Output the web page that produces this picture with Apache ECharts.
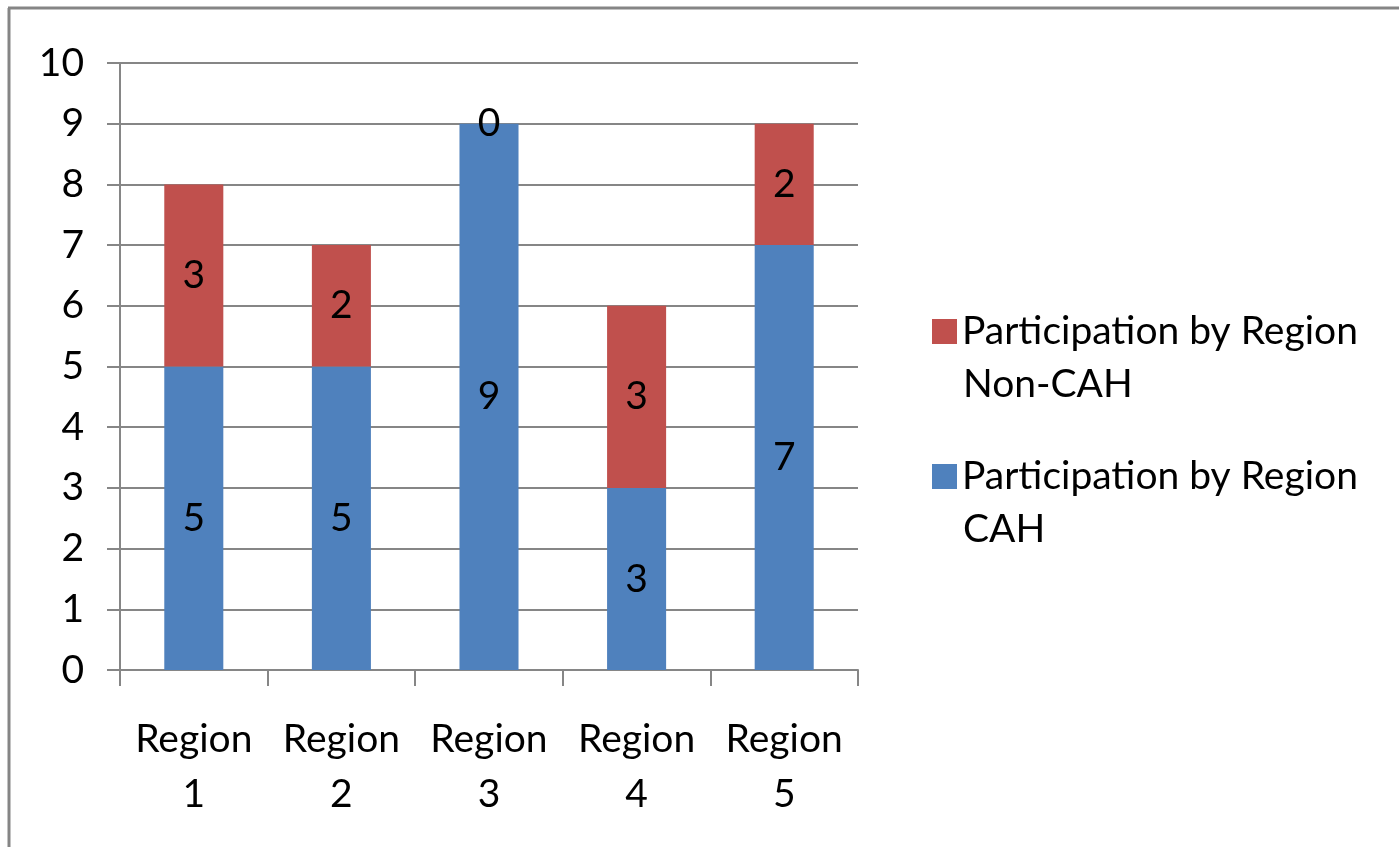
<!DOCTYPE html>
<html><head><meta charset="utf-8">
<script src="https://cdn.jsdelivr.net/npm/echarts@6/dist/echarts.min.js"></script>
<style>html,body{margin:0;padding:0;background:#fff;}#c{width:1399px;height:847px;}</style>
</head><body><div id="c"></div>
<script>
const categories = ['Region\n1','Region\n2','Region\n3','Region\n4','Region\n5'];
const cahValues = [5, 5, 9, 3, 7];
const nonCahValues = [3, 2, 0, 3, 2];
const yTicks = [0,1,2,3,4,5,6,7,8,9,10];
const seriesNames = ['Participation by Region CAH','Participation by Region Non-CAH'];
const legendFirstLine = 'Participation by Region';
const legendSecondLines = ['Non-CAH', 'CAH'];

const FONT = 'Lato, "Open Sans", sans-serif';
const FS = 39;
const chart = echarts.init(document.getElementById('c'));
const labelStyle = {show:true, position:'inside', color:'#000', fontSize:FS, fontFamily:FONT, formatter: p => String(p.value)};
chart.setOption({
  animation:false,
  graphic:[
    {type:'line', shape:{x1:8, y1:8, x2:1399, y2:8}, style:{stroke:'#858585', lineWidth:3}},
    {type:'line', shape:{x1:9, y1:8, x2:9, y2:847}, style:{stroke:'#858585', lineWidth:3}},
    {type:'text', left:963, top:385 - 28, style:{text:legendSecondLines[0], font:FS + 'px ' + FONT, fill:'#000', lineHeight:55, verticalAlign:'top'}},
    {type:'text', left:963, top:530 - 28, style:{text:legendSecondLines[1], font:FS + 'px ' + FONT, fill:'#000', lineHeight:55, verticalAlign:'top'}}
  ],
  grid:{left:120, right:541, top:63, bottom:177},
  legend:{
    orient:'vertical', left:927, top:299, itemWidth:25, itemHeight:25, itemGap:90,
    data:[seriesNames[1], seriesNames[0]],
    icon:'rect',
    formatter: () => legendFirstLine,
    textStyle:{fontSize:FS, fontFamily:FONT, color:'#000', lineHeight:55}
  },
  xAxis:{
    type:'category', data:categories,
    axisLine:{lineStyle:{color:'#868686', width:2}},
    axisTick:{show:true, length:16, alignWithLabel:false, lineStyle:{color:'#868686', width:2}},
    axisLabel:{fontSize:FS, fontFamily:FONT, color:'#000', lineHeight:55, margin:42, interval:0}
  },
  yAxis:{
    type:'value', min:yTicks[0], max:yTicks[yTicks.length-1], interval:1,
    axisLine:{show:true, lineStyle:{color:'#868686', width:2}},
    axisTick:{show:true, inside:false, length:13, lineStyle:{color:'#868686', width:2}},
    splitLine:{lineStyle:{color:'#868686', width:2}},
    axisLabel:{fontSize:FS, fontFamily:FONT, color:'#000', margin:36}
  },
  series:[
    {name:seriesNames[0], type:'bar', stack:'t', data:cahValues, barWidth:'40%', itemStyle:{color:'#4F81BD'}, label:labelStyle},
    {name:seriesNames[1], type:'bar', stack:'t', data:nonCahValues, barWidth:'40%', itemStyle:{color:'#C0504D'}, label:labelStyle}
  ]
});
</script></body></html>
